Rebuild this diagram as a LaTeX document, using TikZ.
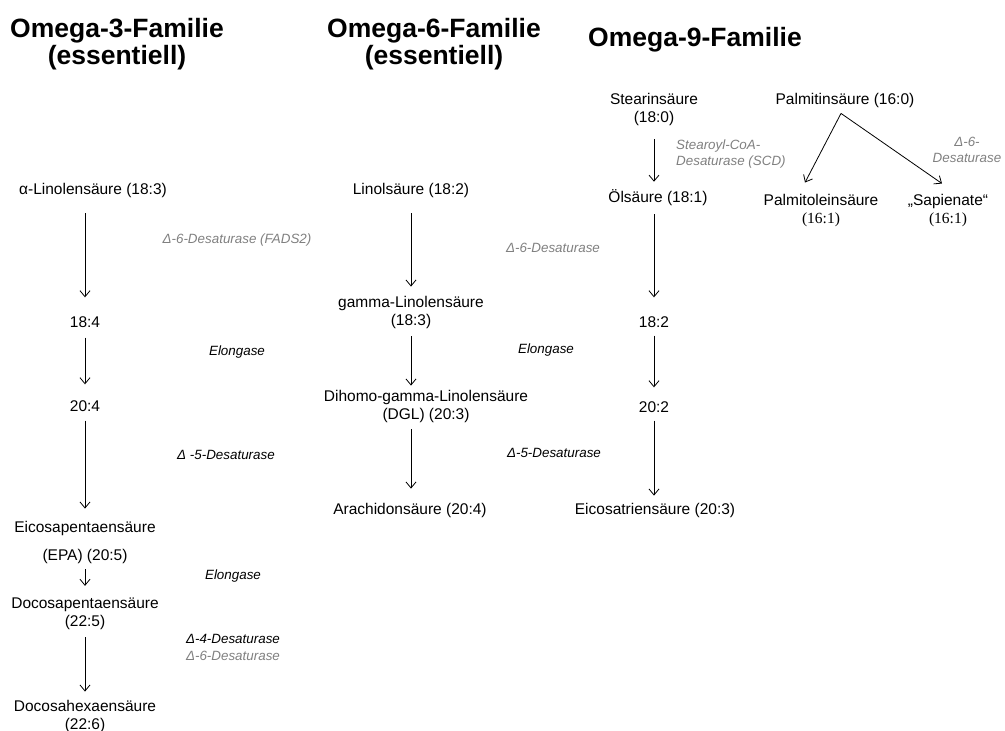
\documentclass[tikz,border=0pt]{standalone}
\usepackage{fontspec}
\setmainfont{Liberation Sans}
\newfontfamily\serifnum{Liberation Serif}
\usetikzlibrary{arrows.meta}
\definecolor{enzgray}{RGB}{128,128,128}

\begin{document}
\begin{tikzpicture}[
  x=1pt, y=-1pt,
  >={Straight Barb[length=6pt,width=10pt]},
  title/.style={font=\fontsize{26.5}{27}\selectfont\bfseries,align=center,inner sep=0pt},
  acid/.style={font=\fontsize{15.5}{18}\selectfont,align=center,inner sep=0pt},
  enzyme/.style={font=\fontsize{13.4}{16}\selectfont\itshape,align=center,inner sep=0pt},
  greyenzyme/.style={enzyme,text=enzgray},
  conv/.style={->,line width=0.8pt},
]
\useasboundingbox (0,0) rectangle (1005,731);

% ===================================================================
% Titles
% ===================================================================
\node[title] (t3) at (117,44) {Omega-3-Familie\\(essentiell)};
\node[title] (t6) at (434,44) {Omega-6-Familie\\(essentiell)};
\node[title] (t9) at (695,40) {Omega-9-Familie};

% arrow columns
\coordinate (col3) at (85,0);
\coordinate (col6) at (411,0);
\coordinate (col9) at (654,0);

% ===================================================================
% Omega-3 chain
% ===================================================================
\node[acid] (ala)  at (93,190)  {α-Linolensäure (18:3)};
\node[acid] (s184) at (85,322)  {18:4};
\node[acid] (s204) at (85,406)  {20:4};
\node[acid] (epa)  at (85,542)  {Eicosapentaensäure\\[10pt](EPA) (20:5)};
\node[acid] (dpa)  at (85,614)  {Docosapentaensäure\\(22:5)};
\node[acid] (dha)  at (85,716)  {Docosahexaensäure\\(22:6)};

\node[greyenzyme] (e3a) at (237,240) {Δ-6-Desaturase (FADS2)};
\node[enzyme] (e3b) at (237,352) {Elongase};
\node[enzyme] (e3c) at (226,455) {Δ -5-Desaturase};
\node[enzyme] (e3d) at (233,576) {Elongase};
\node[enzyme] (e3e) at (233,639) {Δ-4-Desaturase};
\node[greyenzyme] (e3f) at (233,656) {Δ-6-Desaturase};

% ===================================================================
% Omega-6 chain
% ===================================================================
\node[acid] (la)   at (411,190) {Linolsäure (18:2)};
\node[acid] (gla)  at (411,312) {gamma-Linolensäure\\(18:3)};
\node[acid] (dgla) at (426,406) {Dihomo-gamma-Linolensäure\\(DGL) (20:3)};
\node[acid] (aa)   at (410,510) {Arachidonsäure (20:4)};

\node[greyenzyme] (e6a) at (553,248) {Δ-6-Desaturase};
\node[enzyme] (e6b) at (546,350) {Elongase};
\node[enzyme] (e6c) at (554,453) {Δ-5-Desaturase};

% ===================================================================
% Omega-9 chain
% ===================================================================
\node[acid] (stear) at (654,109) {Stearinsäure\\(18:0)};
\node[acid] (olea)  at (658,198) {Ölsäure (18:1)};
\node[acid] (s182)  at (654,322) {18:2};
\node[acid] (s202)  at (654,407) {20:2};
\node[acid] (mead)  at (655,510) {Eicosatriensäure (20:3)};

\node[greyenzyme,align=left,anchor=west] (e9a) at (676,154) {Stearoyl-CoA-\\Desaturase (SCD)};

% palmitic branch
\node[acid] (palm)  at (845,100) {Palmitinsäure (16:0)};
\node[acid] (pleic) at (821,211) {Palmitoleinsäure\\{\serifnum (16:1)}};
\node[acid] (sapi)  at (948,211) {„Sapienate“\\{\serifnum (16:1)}};
\node[greyenzyme] (e9b) at (967,150) {Δ-6-\\Desaturase};

% ===================================================================
% Conversion arrows (gap at start / gap at end)
% ===================================================================
\foreach \a/\b/\c/\s/\e in {ala/s184/col3/16/19, s184/s204/col3/10/16,
    s204/epa/col3/9/12, epa/dpa/col3/6/12, dpa/dha/col3/7/8,
    la/gla/col6/16/9, gla/dgla/col6/8/4, dgla/aa/col6/7/14,
    stear/olea/col9/14/8, olea/s182/col9/8/19, s182/s202/col9/8/14,
    s202/mead/col9/8/7}
  \draw[conv,shorten <=\s pt,shorten >=\e pt] (\a.south -| \c) -- (\b.north -| \c);

\draw[conv] ([shift={(-4,6)}]palm.south) -- ([shift={(-16,-12)}]pleic.north);
\draw[conv] ([shift={(-4,6)}]palm.south) -- ([shift={(-6,-11)}]sapi.north);

\end{tikzpicture}
\end{document}
